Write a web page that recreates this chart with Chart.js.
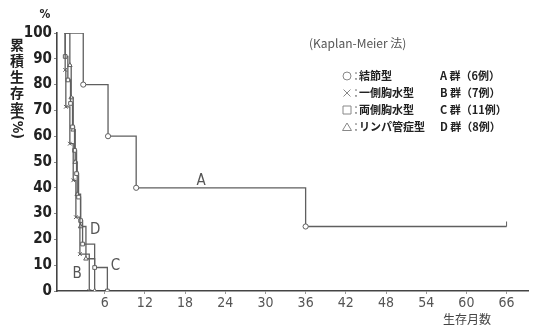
<!DOCTYPE html>
<html>
<head>
<meta charset="utf-8">
<script src="https://cdn.jsdelivr.net/npm/chart.js@4.4.1/dist/chart.umd.min.js"></script>
<style>
  html, body { margin: 0; padding: 0; background: #fff; }
  #wrap { width: 534px; height: 329px; }
</style>
</head>
<body>
<div id="wrap"><canvas id="kmChart" width="534" height="329"></canvas></div>
<script>
// ========== DATA ==========
const xTicks = [6, 12, 18, 24, 30, 36, 42, 48, 54, 60, 66];

// A: 結節型 (6例)
const aMonths = [0, 2.8, 6.5, 10.7, 36, 66];
const aSurv   = [100, 80, 60, 40, 25, 25];

// B: 一側胸水型 (7例)
const bMonths = [0, 0.1, 0.2, 0.8, 1.3, 1.7, 2.3, 3.7];
const bSurv   = [100, 85.7, 71.4, 57.1, 42.9, 28.6, 14.3, 0];

// C: 両側胸水型 (11例)
const cMonths = [0, 0.1, 0.5, 0.9, 1.2, 1.5, 1.8, 2.1, 2.4, 2.7, 4.5, 6.4];
const cSurv   = [100, 90.9, 81.8, 72.7, 63.6, 54.5, 45.5, 36.4, 27.3, 18.2, 9.1, 0];

// D: リンパ管症型 (8例)
const dMonths = [0, 0.8, 1.0, 1.3, 1.6, 1.9, 2.4, 3.2, 4.5];
const dSurv   = [100, 87.5, 75, 62.5, 50, 37.5, 25, 12.5, 0];

const legendRows = [
    { mark: 'circle',   type: '結節型',       group: 'A 群（6例）' },
    { mark: 'crossRot', type: '一側胸水型',   group: 'B 群（7例）' },
    { mark: 'rect',     type: '両側胸水型',   group: 'C 群（11例）' },
    { mark: 'triangle', type: 'リンパ管症型', group: 'D 群（8例）' }
];

// ========== HELPERS ==========
const LINE = '#5f5f5f';
const CJK = "'Noto Sans CJK JP', 'Noto Sans', sans-serif";
const NUM = "'Liberation Sans Narrow', 'DejaVu Sans Condensed', 'Liberation Sans', sans-serif";

function toPoints(xs, ys) {
    return xs.map((x, i) => ({ x: x, y: ys[i] }));
}

function kmDataset(label, xs, ys, style, censorLast) {
    const last = xs.length - 1;
    return {
        label: label,
        data: toPoints(xs, ys),
        stepped: true,
        borderColor: LINE,
        borderWidth: 1.3,
        pointBackgroundColor: '#fff',
        pointBorderColor: LINE,
        pointBorderWidth: 1,
        pointStyle: (ctx) => (censorLast && ctx.dataIndex === last) ? 'dash' : style,
        rotation: (ctx) => (censorLast && ctx.dataIndex === last) ? -90 : 0,
        pointRadius: (ctx) => ctx.dataIndex === 0 ? 0 : (censorLast && ctx.dataIndex === last ? 5 : 2.6),
        pointHoverRadius: 0,
        fill: false
    };
}

// ========== ANNOTATION PLUGIN ==========
const annotations = {
    id: 'annotations',
    afterDraw(chart) {
        const c = chart.ctx;
        const xs = chart.scales.x, ys = chart.scales.y;
        c.save();

        // "%" above axis
        c.fillStyle = '#222';
        c.font = "bold 12px " + NUM;
        c.textAlign = 'center';
        c.textBaseline = 'middle';
        c.fillText('%', 45, 15);

        // vertical axis title
        c.font = "bold 14px " + CJK;
        const chars = ['累', '積', '生', '存', '率'];
        chars.forEach((ch, i) => c.fillText(ch, 17, 45 + i * 16));
        c.save();
        c.translate(17, 127);
        c.rotate(Math.PI / 2);
        c.font = "bold 14px " + NUM;
        c.fillText('(%)', 0, 0);
        c.restore();

        // x axis title
        c.fillStyle = '#444';
        c.font = "12px " + CJK;
        c.fillText('生存月数', 467, 319);

        // curve labels (data units)
        c.fillStyle = '#555';
        c.font = "15px " + NUM;
        c.fillText('A', xs.getPixelForValue(20.4), ys.getPixelForValue(42.5));
        c.fillText('B', xs.getPixelForValue(1.9), ys.getPixelForValue(6.5));
        c.fillText('C', xs.getPixelForValue(7.6), ys.getPixelForValue(9.5));
        c.fillText('D', xs.getPixelForValue(4.6), ys.getPixelForValue(23.5));

        // method note
        c.fillStyle = '#555';
        c.font = "12px " + CJK;
        c.textAlign = 'left';
        c.fillText('(Kaplan-Meier 法)', 309, 43);

        // legend
        legendRows.forEach((row, i) => {
            const y = 76 + i * 17;
            c.strokeStyle = '#888';
            c.lineWidth = 1;
            c.fillStyle = '#fff';
            const mx = 347, r = 4;
            c.beginPath();
            if (row.mark === 'circle') {
                c.arc(mx, y, r, 0, Math.PI * 2);
            } else if (row.mark === 'crossRot') {
                c.moveTo(mx - 3.5, y - 3.5); c.lineTo(mx + 3.5, y + 3.5);
                c.moveTo(mx + 3.5, y - 3.5); c.lineTo(mx - 3.5, y + 3.5);
            } else if (row.mark === 'rect') {
                c.rect(mx - 4, y - 4, 8, 8);
            } else {
                c.moveTo(mx, y - 4); c.lineTo(mx + 4.5, y + 3.5); c.lineTo(mx - 4.5, y + 3.5); c.closePath();
            }
            c.stroke();

            c.fillStyle = '#888';
            c.font = "bold 10px " + CJK;
            c.fillText('：', 351, y);
            c.fillStyle = '#222';
            c.font = "bold 11px " + CJK;
            c.fillText(row.type, 359, y);
            c.fillText(row.group, 440, y);
        });

        c.restore();
    }
};

// ========== CHART ==========
const ctx = document.getElementById('kmChart');

new Chart(ctx, {
    type: 'line',
    data: {
        datasets: [
            kmDataset('A', aMonths, aSurv, 'circle', true),
            kmDataset('B', bMonths, bSurv, 'crossRot', false),
            kmDataset('C', cMonths, cSurv, 'rect', false),
            kmDataset('D', dMonths, dSurv, 'triangle', false)
        ]
    },
    options: {
        responsive: false,
        animation: false,
        layout: { padding: { top: 33, right: 1, left: 0, bottom: 0 } },
        plugins: {
            legend: { display: false },
            tooltip: { enabled: false }
        },
        scales: {
            x: {
                type: 'linear',
                min: -1.12,
                max: 69.2,
                afterBuildTicks: (axis) => { axis.ticks = xTicks.map(v => ({ value: v })); },
                afterFit: (axis) => { axis.height = 38; },
                border: { color: '#444', width: 1.6 },
                grid: { drawOnChartArea: false, drawTicks: true, tickLength: 3, color: '#999' },
                ticks: {
                    color: '#555',
                    font: { family: NUM, size: 14 },
                    padding: 1,
                    maxRotation: 0,
                    autoSkip: false
                }
            },
            y: {
                min: 0,
                max: 100,
                afterFit: (axis) => { axis.width = 57; },
                border: { color: '#444', width: 1.6 },
                grid: { drawOnChartArea: false, drawTicks: true, tickLength: 3, color: '#888' },
                ticks: {
                    stepSize: 10,
                    color: '#222',
                    font: { family: NUM, size: 15, weight: 'bold' },
                    padding: 2
                }
            }
        }
    },
    plugins: [annotations]
});
</script>
</body>
</html>
